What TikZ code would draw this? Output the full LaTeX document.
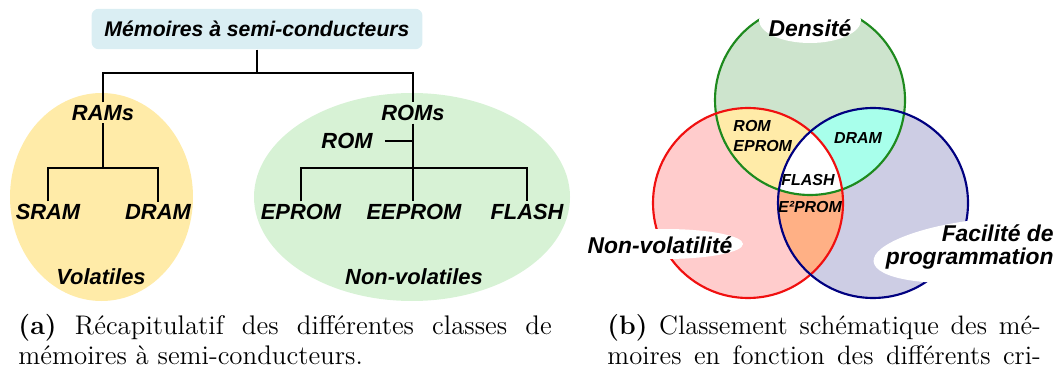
\documentclass[tikz,border=0pt]{standalone}
\usepackage{fontspec}
\usepackage{tikz}
\usetikzlibrary{calc}
\newfontfamily\arialfont{Liberation Sans}
\definecolor{titleblue}{HTML}{DAEEF3}
\definecolor{ramyellow}{HTML}{FFEBA8}
\definecolor{romgreen}{HTML}{D7F2D5}
\definecolor{densfill}{HTML}{CDE4CD}
\definecolor{densline}{HTML}{1E8A1E}
\definecolor{nvfill}{HTML}{FFCCCC}
\definecolor{nvline}{HTML}{F01010}
\definecolor{progfill}{HTML}{CDCDE4}
\definecolor{progline}{HTML}{000080}
\definecolor{dnvfill}{HTML}{FFEBA8}
\definecolor{dpfill}{HTML}{A8FFEB}
\definecolor{nvpfill}{HTML}{FFB085}
\tikzset{
  mlabel/.style={font=\arialfont\bfseries\itshape\fontsize{9.2}{11}\selectfont, inner sep=1pt},
  mtitle/.style={mlabel, font=\arialfont\bfseries\itshape\fontsize{8.9}{11}\selectfont,
                 fill=titleblue, rounded corners=3pt, minimum width=139pt, minimum height=17pt},
  mtree/.style={line width=0.6pt, draw=black},
  vbig/.style={font=\arialfont\bfseries\itshape\fontsize{9.6}{9.7}\selectfont, inner sep=0pt},
  vsmall/.style={font=\arialfont\bfseries\itshape\fontsize{6.7}{8}\selectfont, inner sep=0pt},
  vring/.style={line width=0.9pt},
  capt/.style={anchor=base west, inner sep=0pt}
}

\begin{document}
\begin{tikzpicture}[x=0.42pt, y=-0.42pt]
  \useasboundingbox (0,0) rectangle (1054,368);
  \fill[ramyellow] (101.5,197) ellipse (91.5 and 104);
  \fill[romgreen] (412,197) ellipse (158 and 104);
  \node[mtitle] (T) at (257,29) {Mémoires à semi-conducteurs};
  \node[mlabel] (RAM) at (103,113) {RAMs};
  \node[mlabel] (ROMs) at (413,113) {ROMs};
  \node[mlabel] (ROM) at (347,141) {ROM};
  \node[mlabel] (SR) at (48,212) {SRAM};
  \node[mlabel] (DR) at (158,212) {DRAM};
  \node[mlabel] (EP) at (301,212) {EPROM};
  \node[mlabel] (EE) at (414,212) {EEPROM};
  \node[mlabel] (FL) at (527,212) {FLASH};
  \node[mlabel] (VOL) at (101,277) {Volatiles};
  \node[mlabel] (NVOL) at (414,277) {Non-volatiles};
  \coordinate (J0) at (257,73); \coordinate (J1) at (103,168); \coordinate (J2) at (413,168);
  \draw[mtree] (T) -- (J0); \draw[mtree] (RAM.north) |- (J0) -| (ROMs.north);
  \draw[mtree] (RAM) -- (J1); \draw[mtree] (SR.north) |- (J1) -| (DR.north);
  \draw[mtree] (ROMs) -- (ROMs |- EE.north); \draw[mtree] ([xshift=4pt]ROM.east) -- (ROM.east -| ROMs);
  \draw[mtree] (EP.north) |- (J2) -| (FL.north);

  \coordinate (CD) at (810,100); \coordinate (CN) at (748,203); \coordinate (CP) at (873,203);
  \fill[densfill] (CD) circle (95); \fill[nvfill] (CN) circle (95); \fill[progfill] (CP) circle (95);
  \begin{scope}
    \clip (CD) circle (95);
    \fill[dnvfill] (CN) circle (95); \fill[dpfill] (CP) circle (95);
  \end{scope}
  \begin{scope}
    \clip (CN) circle (95);
    \fill[nvpfill] (CP) circle (95);
    \clip (CD) circle (95);
    \fill[white] (CP) circle (95);
  \end{scope}
  \draw[vring, densline] (CD) circle (95);
  \draw[vring, nvline] (CN) circle (95);
  \draw[vring, progline] (CP) circle (95);
  \fill[white] (810,20) ellipse (51 and 23);
  \fill[white] (665,244) ellipse (78 and 15);
  \fill[white, rotate around={6:(985,250)}] (985,250) ellipse (112 and 31);
  \node[vbig] (DENS) at (810,28) {Densité};
  \node[vbig] (NV) at (660,245) {Non-volatilité};
  \node[vbig, align=right, anchor=north east] (PROG) at (1054,224) {Facilité de\\programmation};
  \node[vsmall, align=left, anchor=west] (RE) at (733,136) {ROM\\EPROM};
  \node[vsmall] (DRM) at (858,138) {DRAM};
  \node[vsmall] (FLS) at (808,180) {FLASH};
  \node[vsmall] (E2P) at (810,207) {E²PROM};

  \node[capt] (CA) at (18,334) {\parbox[t]{224pt}{\fontsize{11.3}{12.6}\selectfont
    \textbf{(a)} Récapitulatif des différentes classes de\linebreak mémoires à semi-conducteurs.}};
  \node[capt] (CB) at (607,334) {\parbox[t]{182pt}{\fontsize{11.2}{12.6}\selectfont\parfillskip=0pt
    \textbf{(b)} Classement schématique des mé-\linebreak moires en fonction des différents cri-}};
\end{tikzpicture}
\end{document}
